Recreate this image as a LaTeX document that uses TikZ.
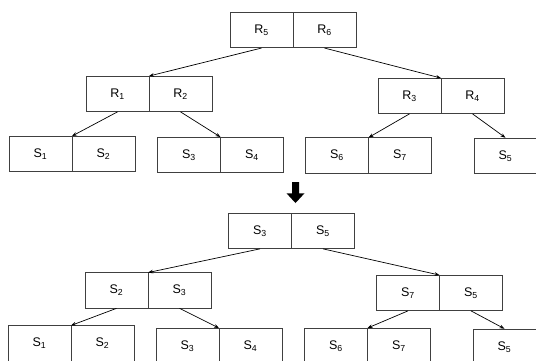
\documentclass[tikz,border=0pt]{standalone}
\usepackage{fontspec}
\setmainfont{Liberation Sans}
\usetikzlibrary{arrows.meta}

\tikzset{
  cell/.style={draw=black!75, line width=0.6pt, minimum width=63pt, minimum height=35.5pt,
    inner sep=0pt, font=\fontsize{12.5}{14}\selectfont},
  link/.style={draw=black, line width=0.7pt, -{Stealth[length=5pt,width=3.6pt]}},
}
% two-cell box: #1 name prefix, #2 left edge, #3 vertical centre, #4 left text, #5 right text
\newcommand\pairbox[5]{%
  \node[cell] (#1a) at (#2+31.5,#3) {#4};
  \node[cell] (#1b) at (#2+94.5,#3) {#5};
  \coordinate (#1m) at (#2+63,#3-17.75);
}
\newcommand\sub[2]{#1\textsubscript{#2}}

\begin{document}
\begin{tikzpicture}[x=1pt,y=-1pt]
\useasboundingbox (0,0) rectangle (536,360);

% ---- upper tree ----
\pairbox{ra}{230}{30}{\sub{R}{5}}{\sub{R}{6}}
\pairbox{rb}{86}{93.8}{\sub{R}{1}}{\sub{R}{2}}
\pairbox{rc}{378}{95.8}{\sub{R}{3}}{\sub{R}{4}}
\pairbox{la}{9}{153.8}{\sub{S}{1}}{\sub{S}{2}}
\pairbox{lb}{157.5}{154.8}{\sub{S}{3}}{\sub{S}{4}}
\pairbox{lc}{305.5}{155.3}{\sub{S}{6}}{\sub{S}{7}}
\node[cell] (ld) at (474+31.5,155.8) {\sub{S}{5}};

\draw[link] (raa.south) -- (rbm);
\draw[link] (rab.south) -- (rcm);
\draw[link] (rba.south) -- (lam);
\draw[link] (rbb.south) -- (lbm);
\draw[link] (rca.south) -- (lcm);
\draw[link] (rcb.south) -- (ld.north);

% ---- transition arrow ----
\fill (292,182) -- (299,182) -- (299,193.3) -- (304.5,193.3) -- (295.5,203)
  -- (286.5,193.3) -- (292,193.3) -- cycle;

% ---- lower tree ----
\pairbox{sa}{228.5}{230.8}{\sub{S}{3}}{\sub{S}{5}}
\pairbox{sb}{85}{290.3}{\sub{S}{2}}{\sub{S}{3}}
\pairbox{sc}{376.5}{292.8}{\sub{S}{7}}{\sub{S}{5}}
\pairbox{ma}{8}{343.2}{\sub{S}{1}}{\sub{S}{2}}
\pairbox{mb}{156}{345.8}{\sub{S}{3}}{\sub{S}{4}}
\pairbox{mc}{304.5}{345.8}{\sub{S}{6}}{\sub{S}{7}}
\node[cell] (md) at (473+31.5,346.8) {\sub{S}{5}};

\draw[link] (saa.south) -- (sbm);
\draw[link] (sab.south) -- (scm);
\draw[link] (sba.south) -- (mam);
\draw[link] (sbb.south) -- (mbm);
\draw[link] (sca.south) -- (mcm);
\draw[link] (scb.south) -- (md.north);
\end{tikzpicture}
\end{document}
